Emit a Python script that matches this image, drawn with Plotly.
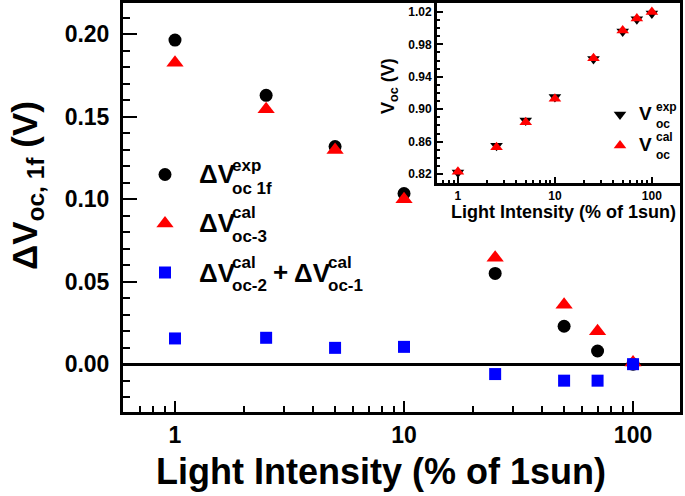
import plotly.graph_objects as go

# ---------------- data ----------------
intensity = [1, 2.5, 5, 10, 25, 50, 70, 100]
dvoc_exp_1f = [0.1965, 0.1630, 0.1320, 0.1035, 0.0550, 0.0230, 0.0080, 0.0000]
dvoc_cal_3 = [0.1827, 0.1545, 0.1298, 0.1000, 0.0646, 0.0360, 0.0200, 0.0010]
dvoc_cal_2_plus_1 = [0.0156, 0.0160, 0.0099, 0.0105, -0.0060, -0.0100, -0.0100, 0.0000]

voc_exp = [0.822, 0.855, 0.886, 0.915, 0.962, 0.996, 1.011, 1.018]
voc_cal = [0.823, 0.853, 0.884, 0.913, 0.963, 0.997, 1.012, 1.020]

main_xticks = [1, 10, 100]
main_xticktext = ["1", "10", "100"]
minor_log = [0.7, 0.8, 0.9, 2, 3, 4, 5, 6, 7, 8, 9, 20, 30, 40, 50, 60, 70, 80, 90]

# ---------------- layout helpers ----------------
W, H = 685, 496
ML, MR, MT, MB = 123, 5, 3, 84
PW, PH = W - ML - MR, H - MT - MB


def px(x):
    return (x - ML) / PW


def py(y):
    return (H - MB - y) / PH


FONT = "Liberation Sans, Arial, sans-serif"
BLACK = "#000000"
RED = "#ff0000"
BLUE = "#0000ff"

fig = go.Figure()

# main traces
fig.add_trace(go.Scatter(x=intensity, y=dvoc_exp_1f, mode="markers", name=" ",
                         legendgroup="a", legend="legend",
                         marker=dict(symbol="circle", size=13, color=BLACK)))
fig.add_trace(go.Scatter(x=intensity, y=dvoc_cal_3, mode="markers", name=" ",
                         legendgroup="b", legend="legend",
                         marker=dict(symbol="triangle-up", size=15, color=RED)))
fig.add_trace(go.Scatter(x=intensity, y=dvoc_cal_2_plus_1, mode="markers", name=" ",
                         legendgroup="c", legend="legend",
                         marker=dict(symbol="square", size=12, color=BLUE)))

# inset traces
fig.add_trace(go.Scatter(x=intensity, y=voc_exp, mode="markers", name=" ",
                         xaxis="x2", yaxis="y2", legendgroup="d", legend="legend2",
                         marker=dict(symbol="triangle-down", size=11, color=BLACK)))
fig.add_trace(go.Scatter(x=intensity, y=voc_cal, mode="markers", name=" ",
                         xaxis="x2", yaxis="y2", legendgroup="e", legend="legend2",
                         marker=dict(symbol="triangle-up", size=11, color=RED)))

bold = dict(family=FONT, color=BLACK, weight="bold")

fig.update_layout(
    width=W, height=H,
    margin=dict(l=ML, r=MR, t=MT, b=MB, autoexpand=False),
    paper_bgcolor="white", plot_bgcolor="white",
    font=dict(family=FONT, color=BLACK),
    showlegend=True,
    xaxis=dict(
        type="log", range=[-0.227, 2.205], automargin=False,
        tickvals=main_xticks, ticktext=main_xticktext,
        ticks="inside", ticklen=11, tickwidth=2, tickcolor=BLACK,
        minor=dict(tickvals=minor_log, ticks="inside", ticklen=6, tickwidth=2, tickcolor=BLACK),
        showline=True, linewidth=3, linecolor=BLACK, mirror=True,
        showgrid=False, zeroline=False,
        tickfont=dict(size=23, **bold),
    ),
    yaxis=dict(
        range=[-0.029, 0.219], dtick=0.05, tick0=0, tickformat=".2f", automargin=False,
        ticks="inside", ticklen=14, tickwidth=2, tickcolor=BLACK,
        minor=dict(dtick=0.01, ticks="inside", ticklen=7, tickwidth=2, tickcolor=BLACK),
        showline=True, linewidth=3, linecolor=BLACK, mirror=True,
        showgrid=False, zeroline=True, zerolinecolor=BLACK, zerolinewidth=2.5,
        tickfont=dict(size=23, **bold), ticklabelstandoff=6,
    ),
    xaxis2=dict(
        type="log", range=[-0.216, 2.29], domain=[px(437), 1], anchor="y2", automargin=False,
        tickvals=main_xticks, ticktext=main_xticktext,
        ticks="inside", ticklen=6, tickwidth=2, tickcolor=BLACK,
        minor=dict(tickvals=minor_log, ticks="inside", ticklen=3, tickwidth=1.5, tickcolor=BLACK),
        showline=True, linewidth=3, linecolor=BLACK, mirror=True,
        showgrid=False, zeroline=False,
        tickfont=dict(size=12, **bold), ticklabelstandoff=0,
    ),
    yaxis2=dict(
        range=[0.809, 1.031], dtick=0.04, tick0=0.82, tickformat=".2f",
        domain=[py(183), 1], anchor="x2", automargin=False,
        ticks="inside", ticklen=6, tickwidth=2, tickcolor=BLACK,
        minor=dict(dtick=0.01, ticks="inside", ticklen=3, tickwidth=1.5, tickcolor=BLACK),
        showline=True, linewidth=3, linecolor=BLACK, mirror=True,
        showgrid=False, zeroline=False,
        tickfont=dict(size=12, **bold),
    ),
    legend=dict(x=px(145), y=py(155), xanchor="left", yanchor="top",
                bgcolor="rgba(0,0,0,0)", font=dict(size=20), tracegroupgap=20,
                traceorder="grouped", itemwidth=30),
    legend2=dict(x=px(600), y=py(100), xanchor="left", yanchor="top",
                 bgcolor="rgba(0,0,0,0)", font=dict(size=12), tracegroupgap=12,
                 traceorder="grouped", itemwidth=30),
)

ann = []


def txt(text, x, y, size, anchor="left", angle=0):
    ann.append(dict(text=text, x=px(x), y=py(y), xref="paper", yref="paper",
                    xanchor=anchor, yanchor="middle", showarrow=False, textangle=angle,
                    font=dict(size=size, **bold)))


# axis titles
txt("Light Intensity (% of 1sun)", 381, 471, 36, anchor="center")
txt("ΔV<sub>oc, 1f</sub> (V)", 27, 186, 35, anchor="center", angle=-90)
txt("Light Intensity (% of 1sun)", 563, 212, 18, anchor="center")
txt("V<sub>oc</sub> (V)", 389, 86, 18, anchor="center", angle=-90)

# main legend labels
txt("ΔV", 197, 174, 26)
txt("exp", 230, 165, 17)
txt("oc 1f", 230, 188, 17)
txt("ΔV", 197, 223, 26)
txt("cal", 230, 212, 17)
txt("oc-3", 230, 236, 17)
txt("ΔV", 197, 273, 26)
txt("cal", 230, 262, 17)
txt("oc-2", 230, 285, 17)
txt("+", 271, 272, 26)
txt("ΔV", 292, 273, 26)
txt("cal", 326, 262, 17)
txt("oc-1", 326, 285, 17)

# inset legend labels
txt("V", 637, 114, 19)
txt("exp", 654, 107, 12)
txt("oc", 654, 124, 12)
txt("V", 637, 144, 19)
txt("cal", 654, 137, 12)
txt("oc", 654, 155, 12)

fig.update_layout(annotations=ann)

fig.write_html(
    "out.html",
    config={"displayModeBar": False},
    post_script="document.body.style.margin='0';document.body.style.overflow='hidden';",
)
